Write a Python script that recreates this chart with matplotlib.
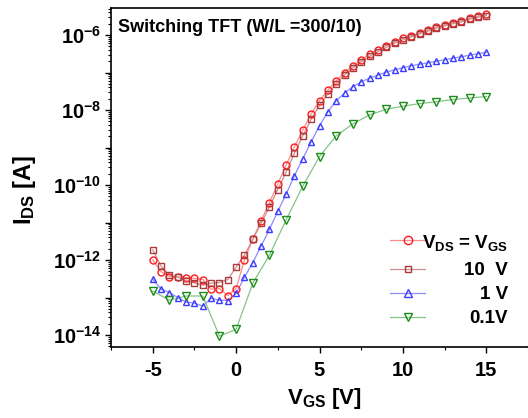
import numpy as np
import matplotlib
matplotlib.use("Agg")
import matplotlib.pyplot as plt
from matplotlib.ticker import LogLocator, NullFormatter, FuncFormatter, MultipleLocator, FixedLocator

plt.rcParams['font.family'] = ['Liberation Sans', 'DejaVu Sans']
plt.rcParams['font.weight'] = 'bold'
plt.rcParams['axes.labelweight'] = 'bold'
plt.rcParams['mathtext.fontset'] = 'custom'
plt.rcParams['mathtext.rm'] = 'Liberation Sans:bold'
plt.rcParams['mathtext.it'] = 'Liberation Sans:bold'
plt.rcParams['mathtext.bf'] = 'Liberation Sans:bold'
plt.rcParams['mathtext.default'] = 'bf'
plt.rcParams['axes.unicode_minus'] = False

# ---- data (V_GS in volts, log10 of I_DS in amperes) ----
vgs_half = [-5, -4.5, -4, -3.5, -3, -2.5, -2, -1.5, -1, -0.5, 0, 0.5, 1, 1.5, 2, 2.5,
            3, 3.5, 4, 4.5, 5, 5.5, 6, 6.5, 7, 7.5, 8, 8.5, 9, 9.5, 10, 10.5,
            11, 11.5, 12, 12.5, 13, 13.5, 14, 14.5, 15]
vgs_int = [-5, -4, -3, -2, -1, 0, 1, 2, 3, 4, 5, 6, 7, 8, 9, 10, 11, 12, 13, 14, 15]

log_id_vds_eq_vgs = [-12.0, -12.31, -12.44, -12.45, -12.47, -12.49, -12.52, -12.78, -12.76, -12.95,
                     -12.76, -12.0, -11.45, -10.95, -10.47, -9.97, -9.47, -8.98, -8.53, -8.11,
                     -7.75, -7.47, -7.22, -7.0, -6.82, -6.67, -6.51, -6.4, -6.28, -6.18,
                     -6.09, -6.02, -5.94, -5.87, -5.79, -5.73, -5.67, -5.62, -5.55, -5.50, -5.45]
log_id_vds_10 = [-11.73, -12.16, -12.4, -12.46, -12.55, -12.61, -12.67, -12.62, -12.6, -12.52,
                 -12.19, -11.87, -11.45, -11.02, -10.58, -10.12, -9.65, -9.15, -8.68, -8.25,
                 -7.87, -7.57, -7.3, -7.07, -6.88, -6.72, -6.57, -6.45, -6.33, -6.22,
                 -6.13, -6.05, -5.97, -5.9, -5.82, -5.76, -5.7, -5.65, -5.58, -5.53, -5.48]
log_id_vds_1 = [-12.51, -12.78, -12.87, -13.0, -13.12, -13.15, -13.23, -13.02, -13.07, -13.08,
                -12.89, -12.46, -12.07, -11.63, -11.18, -10.7, -10.24, -9.75, -9.3, -8.85,
                -8.42, -8.05, -7.75, -7.55, -7.38, -7.25, -7.15, -7.07, -6.99, -6.93,
                -6.87, -6.82, -6.78, -6.74, -6.70, -6.66, -6.62, -6.58, -6.54, -6.50, -6.46]
log_id_vds_01 = [-12.83, -13.07, -12.96, -12.96, -14.03, -13.85, -12.62, -11.87, -10.93, -10.03,
                 -9.24, -8.69, -8.37, -8.13, -7.98, -7.90, -7.83, -7.78, -7.72, -7.68, -7.64]

y_decades = [-14, -13, -12, -11, -10, -9, -8, -7, -6]
labels = [r'V$_{DS}$ = V$_{GS}$', '10  V', '1 V', '0.1V']

series = [
    (vgs_half, log_id_vds_eq_vgs, 'o', '#ff1a1a', '#ff8c8c', 5.0),
    (vgs_half, log_id_vds_10, 's', '#a83c3c', '#cf8f8f', 3.8),
    (vgs_half, log_id_vds_1, '^', '#3c3cff', '#8c8cff', 5.0),
    (vgs_int, log_id_vds_01, 'v', '#1a8c1a', '#86c486', 5.2),
]

fig = plt.figure(figsize=(5.28, 4.18), dpi=100)
ax = fig.add_axes([111/528, 71/418, 417/528, 339/418])

for x, ly, m, ec, lc, ms in series:
    ax.plot(x, np.power(10.0, ly), color=lc, lw=0.9, zorder=2)
    ax.plot(x, np.power(10.0, ly), ls='none', marker=m, ms=ms, mfc='none',
            mec=ec, mew=1.0, zorder=3)

ax.set_yscale('log')
ax.set_xlim(-7.5, 17.5)
ax.set_ylim(10**-14.32, 10**-5.28)

ax.xaxis.set_major_locator(MultipleLocator(5))
ax.xaxis.set_minor_locator(MultipleLocator(2.5))
ax.yaxis.set_major_locator(FixedLocator(np.power(10.0, y_decades)))
ax.yaxis.set_minor_locator(LogLocator(base=10, subs=np.arange(2, 10), numticks=30))
ax.yaxis.set_minor_formatter(NullFormatter())


def yfmt(v, pos):
    e = int(round(np.log10(v)))
    if e % 2 == 0:
        return r'$10^{%d}$' % e
    return ''


ax.yaxis.set_major_formatter(FuncFormatter(yfmt))
ax.tick_params(axis='both', which='major', direction='out', length=4, width=1.0,
               labelsize=14.5, pad=3)
ax.tick_params(axis='x', which='major', pad=6)
ax.tick_params(axis='both', which='minor', direction='out', length=2.5, width=0.8)

for s in ['left', 'bottom', 'top']:
    ax.spines[s].set_linewidth(1.2)
ax.spines['right'].set_visible(False)

ax.set_xlabel(r'V$_{GS}$ [V]', fontsize=16, fontweight='bold')
ax.set_ylabel(r'I$_{DS}$ [A]', fontsize=17, fontweight='bold')
ax.xaxis.set_label_coords(0.511, -0.115)
ax.yaxis.set_label_coords(-0.175, 0.463)

ax.text(0.017, 0.929, 'Switching TFT (W/L =300/10)', transform=ax.transAxes,
        fontsize=13, fontweight='bold', va='baseline', ha='left')

# legend keys (manual, so the labels can be right-aligned as in the original)
key_rows = [0.3156, 0.2292, 0.1602, 0.0894]
text_rows = [0.292, 0.2124, 0.1416, 0.0708]
for (x, ly, m, ec, lc, ms), ky, ty, lab in zip(series, key_rows, text_rows, labels):
    ax.plot([0.669, 0.753], [ky, ky], transform=ax.transAxes, color=lc, lw=0.9,
            clip_on=False)
    ax.plot([0.712], [ky], transform=ax.transAxes, ls='none', marker=m, ms=ms + 1.0,
            mfc='none', mec=ec, mew=1.0, clip_on=False)
    ax.text(0.952, ty, lab, transform=ax.transAxes, ha='right', va='baseline',
            fontsize=13.5, fontweight='bold')

fig.savefig('out.png', dpi=100)
